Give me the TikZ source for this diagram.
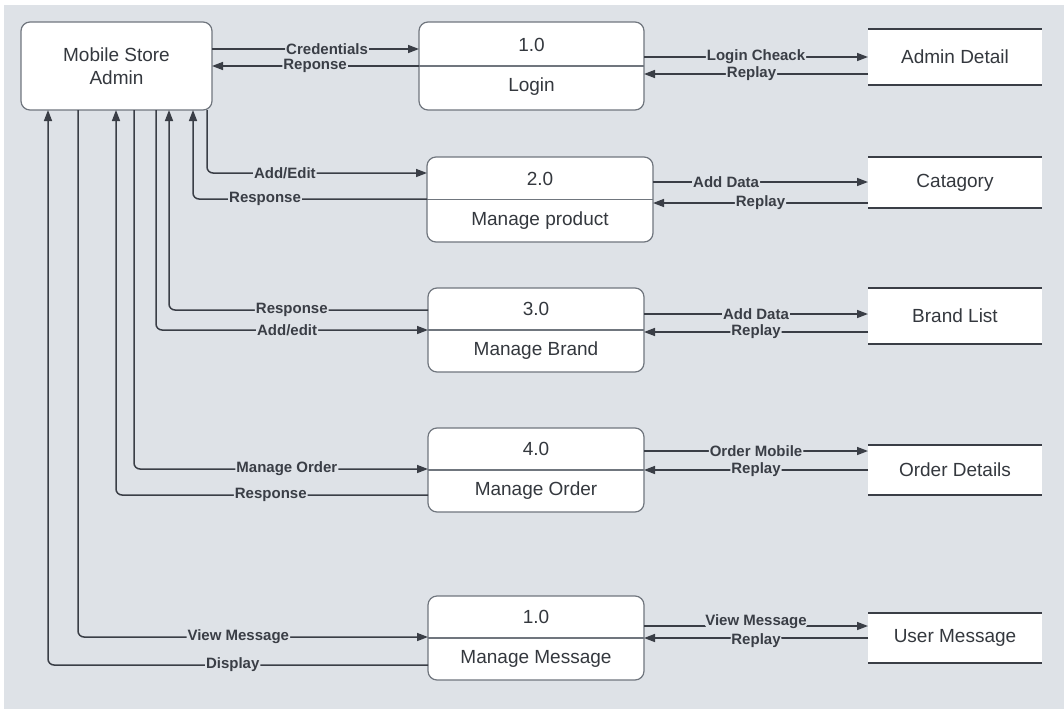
\documentclass[tikz,border=0pt]{standalone}
\usepackage{fontspec}
\setmainfont{Liberation Sans}
\usetikzlibrary{arrows.meta}
\definecolor{bg}{RGB}{222,226,231}
\definecolor{ln}{RGB}{58,62,70}
\definecolor{bd}{RGB}{112,118,126}
\definecolor{tx}{RGB}{52,56,62}
\begin{document}
\begin{tikzpicture}[x=1pt,y=-1pt,
  procbox/.style={draw=bd, line width=1.2pt, fill=white, rounded corners=9pt, outer sep=0pt, inner sep=0pt},
  storebox/.style={fill=white, outer sep=0pt, inner sep=0pt, font=\fontsize{19}{22}\selectfont, text=tx},
  storeline/.style={draw=ln, line width=1.2pt},
  divline/.style={draw=bd, line width=1.2pt},
  ptext/.style={font=\fontsize{19}{23}\selectfont, text=tx, inner sep=0pt},
  flow/.style={draw=ln, line width=1.5pt, rounded corners=6pt, -{Triangle[length=11pt,width=8pt]}},
  lbl/.style={fill=bg, inner sep=1pt, font=\bfseries\fontsize{15}{15}\selectfont, text=ln},
]
\useasboundingbox (0,0) rectangle (1064,709);
\fill[white] (0,0) rectangle (1064,709);
\fill[bg] (4,5) rectangle (1064,709);

% external entity
\node[procbox, minimum width=191pt, minimum height=88pt] (admin) at (116.5,66) {};
\node[ptext, align=center] (admint) at (admin.center) {Mobile Store\\Admin};

% processes
\node[procbox, minimum width=225pt, minimum height=88pt] (p1) at (531.5,66) {};
\node[procbox, minimum width=226pt, minimum height=85pt] (p2) at (540,199.5) {};
\node[procbox, minimum width=216pt, minimum height=84pt] (p3) at (536,330) {};
\node[procbox, minimum width=216pt, minimum height=84pt] (p4) at (536,470) {};
\node[procbox, minimum width=216pt, minimum height=84pt] (p5) at (536,638) {};
\foreach \p/\n/\t in {p1/1.0/Login, p2/2.0/Manage product, p3/3.0/Manage Brand, p4/4.0/Manage Order, p5/1.0/Manage Message}{
  \draw[divline] (\p.west) -- (\p.east);
  \node[ptext] (\p n) at ([yshift=21pt]\p.center) {\n};
  \node[ptext] (\p t) at ([yshift=-21pt]\p.center) {\t};
}

% data stores
\node[storebox, minimum width=174pt, minimum height=56pt] (s1) at (955,57) {Admin Detail};
\node[storebox, minimum width=174pt, minimum height=51pt] (s2) at (955,182.5) {Catagory};
\node[storebox, minimum width=174pt, minimum height=56pt] (s3) at (955,316) {Brand List};
\node[storebox, minimum width=174pt, minimum height=50pt] (s4) at (955,470) {Order Details};
\node[storebox, minimum width=174pt, minimum height=50pt] (s5) at (955,638) {User Message};
\foreach \s in {s1,s2,s3,s4,s5}{
  \draw[storeline] (\s.north west) -- (\s.north east) (\s.south west) -- (\s.south east);
}

% admin <-> login
\draw[flow] (admin.east |- 0,49) -- node[lbl, pos=0.556] {Credentials} (p1.west |- 0,49);
\draw[flow] (p1.west |- 0,66) -- node[lbl, pos=0.502] {Reponse} (admin.east |- 0,66);
\draw[flow] (p1.east |- 0,57) -- node[lbl, pos=0.5] {Login Cheack} (s1.west |- 0,57);
\draw[flow] (s1.west |- 0,74) -- node[lbl, pos=0.52] {Replay} (p1.east |- 0,74);

% manage product
\draw[flow] (admin.south -| 207,0) |- node[lbl, pos=0.677] {Add/Edit} (p2.west |- 0,173);
\draw[flow] (p2.west |- 0,199) -| node[lbl, pos=0.346] {Response} (admin.south -| 193,0);
\draw[flow] (p2.east |- 0,182) -- node[lbl, pos=0.34] {Add Data} (s2.west |- 0,182);
\draw[flow] (s2.west |- 0,203) -- node[lbl, pos=0.5] {Replay} (p2.east |- 0,203);

% manage brand
\draw[flow] (p3.west |- 0,310) -| node[lbl, pos=0.263] {Response} (admin.south -| 169,0);
\draw[flow] (admin.south -| 156,0) |- node[lbl, pos=0.741] {Add/edit} (p3.west |- 0,330);
\draw[flow] (p3.east |- 0,314) -- node[lbl, pos=0.5] {Add Data} (s3.west |- 0,314);
\draw[flow] (s3.west |- 0,332) -- node[lbl, pos=0.5] {Replay} (p3.east |- 0,332);

% manage order
\draw[flow] (admin.south -| 134,0) |- node[lbl, pos=0.760] {Manage Order} (p4.west |- 0,469);
\draw[flow] (p4.west |- 0,495) -| node[lbl, pos=0.252] {Response} (admin.south -| 116,0);
\draw[flow] (p4.east |- 0,451) -- node[lbl, pos=0.5] {Order Mobile} (s4.west |- 0,451);
\draw[flow] (s4.west |- 0,470) -- node[lbl, pos=0.5] {Replay} (p4.east |- 0,470);

% manage message
\draw[flow] (admin.south -| 78,0) |- node[lbl, pos=0.729] {View Message} (p5.west |- 0,637);
\draw[flow] (p5.west |- 0,665) -| node[lbl, pos=0.257] {Display} (admin.south -| 48,0);
\draw[flow] (s5.west |- 0,638) -- node[lbl, pos=0.5, yshift=-2.5pt, inner ysep=0pt] {Replay} (p5.east |- 0,638);
\draw[flow] (p5.east |- 0,626) -- node[lbl, pos=0.5, yshift=4.5pt, inner ysep=0pt] {View Message} (s5.west |- 0,626);
\end{tikzpicture}
\end{document}
